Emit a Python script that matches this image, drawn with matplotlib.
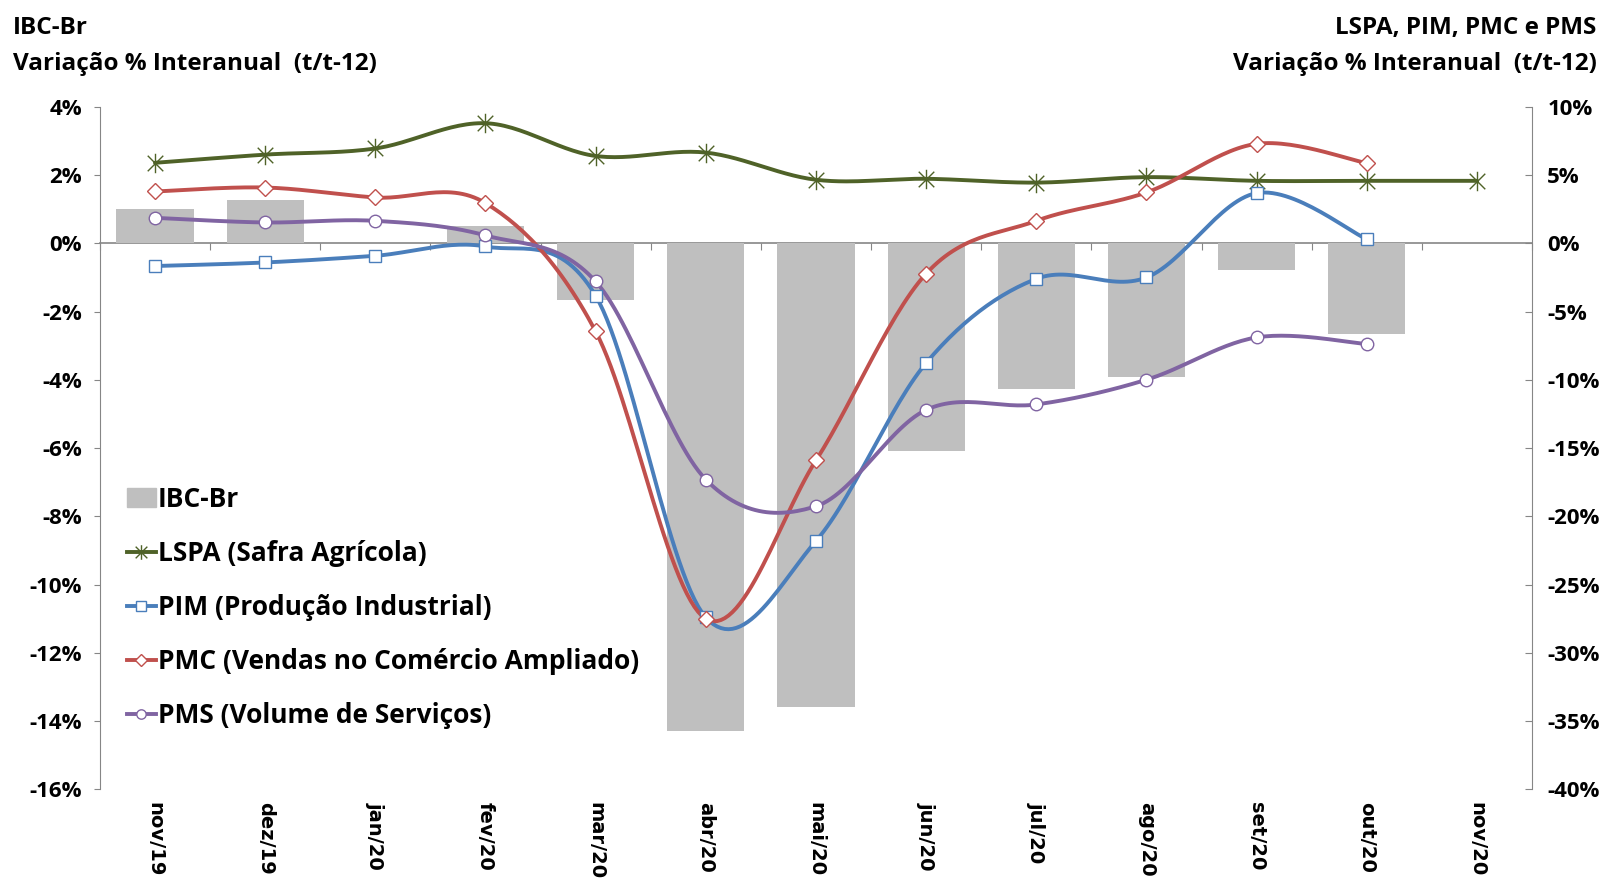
import numpy as np
import matplotlib
matplotlib.use("Agg")
import matplotlib.pyplot as plt
from matplotlib.path import Path
from matplotlib.lines import Line2D
from matplotlib.patches import Patch
from matplotlib.ticker import FuncFormatter

months = ["nov/19", "dez/19", "jan/20", "fev/20", "mar/20", "abr/20", "mai/20",
          "jun/20", "jul/20", "ago/20", "set/20", "out/20", "nov/20"]

# IBC-Br (left axis, %)
ibc = [1.01, 1.28, 0.0, 0.52, -1.65, -14.29, -13.58, -6.09, -4.27, -3.93, -0.79, -2.66]
# right axis series (%)
lspa = [5.9, 6.5, 6.95, 8.8, 6.4, 6.65, 4.66, 4.73, 4.45, 4.85, 4.58, 4.58, 4.58]
pim = [-1.66, -1.4, -0.91, -0.23, -3.84, -27.4, -21.8, -8.76, -2.6, -2.5, 3.68, 0.31]
pmc = [3.8, 4.09, 3.36, 2.95, -6.45, -27.5, -15.9, -2.22, 1.65, 3.73, 7.29, 5.88]
pms = [1.87, 1.53, 1.65, 0.58, -2.79, -17.3, -19.26, -12.2, -11.8, -9.99, -6.89, -7.37]

GRAY = "#bfbfbf"
C_LSPA = "#4f6228"
C_PIM = "#4a7ebb"
C_PMC = "#c0504d"
C_PMS = "#8064a2"
AXC = "#868686"
FONT = "Open Sans"


def smooth(y, n=30):
    # excel-like bezier smoothing through the points
    y = np.asarray(y, float)
    x = np.arange(len(y), dtype=float)
    xs, ys = [], []
    for i in range(len(y) - 1):
        im = max(i - 1, 0)
        ip = min(i + 2, len(y) - 1)
        p0 = np.array([x[i], y[i]])
        p3 = np.array([x[i + 1], y[i + 1]])
        p1 = p0 + (p3 - np.array([x[im], y[im]])) / 6
        p2 = p3 - (np.array([x[ip], y[ip]]) - p0) / 6
        t = np.linspace(0, 1, n)[:, None]
        b = (1 - t) ** 3 * p0 + 3 * (1 - t) ** 2 * t * p1 + 3 * (1 - t) * t ** 2 * p2 + t ** 3 * p3
        xs.append(b[:, 0])
        ys.append(b[:, 1])
    return np.concatenate(xs), np.concatenate(ys)


star = Path([(0, -1), (0, 1), (-0.8, -0.8), (0.8, 0.8), (-0.8, 0.8), (0.8, -0.8)],
            [Path.MOVETO, Path.LINETO, Path.MOVETO, Path.LINETO, Path.MOVETO, Path.LINETO])

fig = plt.figure(figsize=(16.11, 8.83), dpi=100)
ax = fig.add_axes([0.062, 0.106, 0.889, 0.773])
ax2 = ax.twinx()

x = np.arange(len(months))
ax.bar(x[:len(ibc)], ibc, width=0.7, color=GRAY, zorder=1)
ax.set_xlim(-0.5, len(months) - 0.5)
ax.set_ylim(-16, 4)
ax.set_yticks(np.arange(-16, 5, 2))
ax2.set_ylim(-40, 10)
ax2.set_yticks(np.arange(-40, 11, 5))

series = [
    (lspa, C_LSPA, star, 14, C_LSPA, "LSPA (Safra Agrícola)"),
    (pim, C_PIM, "s", 9, "white", "PIM (Produção Industrial)"),
    (pmc, C_PMC, "D", 8, "white", "PMC (Vendas no Comércio Ampliado)"),
    (pms, C_PMS, "o", 9, "white", "PMS (Volume de Serviços)"),
]
handles = [Patch(color=GRAY, label="IBC-Br")]
for vals, col, mk, ms, fc, lab in series:
    sx, sy = smooth(vals)
    ax2.plot(sx, sy, color=col, lw=2.8, zorder=3, solid_capstyle="round")
    ax2.plot(x[:len(vals)], vals, ls="none", marker=mk, ms=ms, mfc=fc,
             mec=col, mew=1.0, zorder=4)
    handles.append(Line2D([], [], color=col, lw=2.8, marker=mk, ms=ms * 0.75,
                          mfc=fc, mec=col, mew=1.0, label=lab))

pct = FuncFormatter(lambda v, p: f"{v:.0f}%")
ax.yaxis.set_major_formatter(pct)
ax2.yaxis.set_major_formatter(pct)

for a in (ax, ax2):
    for s in ("top", "bottom"):
        a.spines[s].set_visible(False)
    for s in ("left", "right"):
        a.spines[s].set_color(AXC)
ax.spines["right"].set_visible(False)
ax2.spines["left"].set_visible(False)

ax.tick_params(axis="y", direction="out", length=4, color=AXC, pad=9, labelsize=16)
ax2.tick_params(axis="y", direction="in", length=5, color=AXC, pad=11, labelsize=16)
for lbl in ax.get_yticklabels() + ax2.get_yticklabels():
    lbl.set_fontweight("bold")
    lbl.set_family(FONT)

# category labels at the bottom
ax.set_xticks(x)
ax.set_xticklabels(months, rotation=270, fontsize=14, fontweight="bold", family="DejaVu Sans")
ax.tick_params(axis="x", length=0, pad=9)

# zero line with tick marks between categories
sec = ax.secondary_xaxis(0.8)
sec.set_alignment("bottom")
sec.set_xticks(np.arange(-0.5, len(months), 1.0))
sec.set_xticklabels([])
sec.tick_params(axis="x", direction="out", length=5, color=AXC)
sec.spines["bottom"].set_color(AXC)
sec.spines["bottom"].set_linewidth(1.2)

leg = ax.legend(handles=handles, loc="upper left", bbox_to_anchor=(0.072, 0.462, 0.0, 0.0),
                bbox_transform=fig.transFigure, frameon=False, fontsize=19,
                handlelength=1.1, handletextpad=0.08, labelspacing=1.03, borderaxespad=0)
for t in leg.get_texts():
    t.set_fontweight("bold")
    t.set_family(FONT)

fig.text(0.008, 0.9615, "IBC-Br", fontsize=17.5, fontweight="bold", family=FONT, va="baseline")
fig.text(0.008, 0.921, "Variação % Interanual  (t/t-12)", fontsize=17.5, fontweight="bold",
         family=FONT, va="baseline")
fig.text(0.991, 0.9615, "LSPA, PIM, PMC e PMS", fontsize=17.5, fontweight="bold", family=FONT,
         va="baseline", ha="right")
fig.text(0.991, 0.921, "Variação % Interanual  (t/t-12)", fontsize=17.5, fontweight="bold",
         family=FONT, va="baseline", ha="right")

fig.savefig("out.png", dpi=100)
